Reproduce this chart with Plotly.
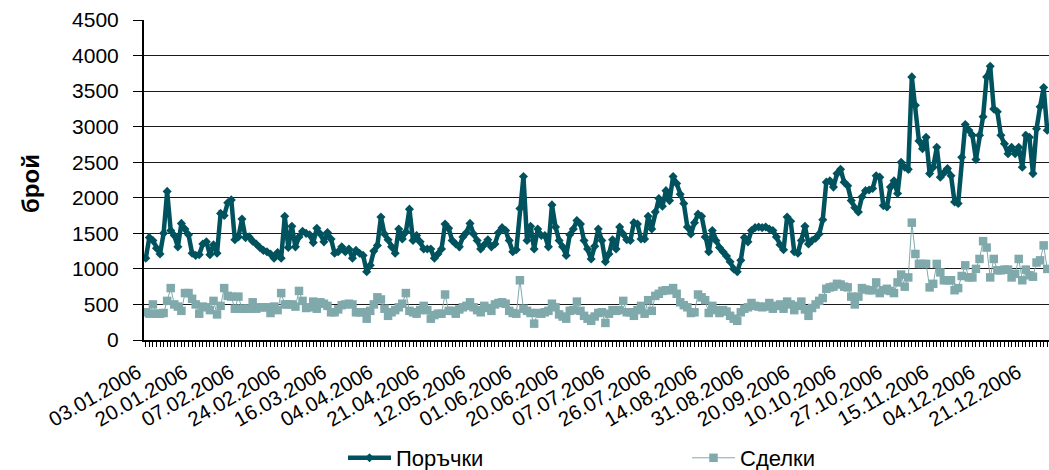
import plotly.graph_objects as go

# Tick labels shown along the category axis (every 13th trading day)
tick_labels = [
    "03.01.2006", "20.01.2006", "07.02.2006", "24.02.2006", "16.03.2006",
    "04.04.2006", "21.04.2006", "12.05.2006", "01.06.2006", "20.06.2006",
    "07.07.2006", "26.07.2006", "14.08.2006", "31.08.2006", "20.09.2006",
    "10.10.2006", "27.10.2006", "15.11.2006", "04.12.2006", "21.12.2006",
]
tick_step = 13

# Daily number of orders
orders = [
    1150, 1440, 1400, 1290, 1210, 1500, 2090, 1540, 1470, 1310,
    1640, 1560, 1480, 1220, 1190, 1200, 1350, 1380, 1200, 1340,
    1220, 1780, 1750, 1930, 1970, 1410, 1450, 1700, 1440, 1450,
    1390, 1350, 1300, 1260, 1240, 1210, 1150, 1230, 1150, 1740,
    1300, 1600, 1310, 1450, 1530, 1500, 1480, 1370, 1570, 1490,
    1380, 1510, 1420, 1220, 1240, 1310, 1240, 1280, 1150, 1260,
    1220, 1190, 960, 1050, 1250, 1330, 1730, 1490, 1410, 1310,
    1220, 1560, 1420, 1520, 1840, 1400, 1470, 1380, 1280, 1280,
    1280, 1150, 1210, 1280, 1630, 1570, 1400, 1350, 1310, 1450,
    1510, 1640, 1490, 1400, 1280, 1340, 1410, 1310, 1350, 1510,
    1580, 1540, 1400, 1240, 1270, 1850, 2300, 1400, 1600, 1280,
    1560, 1470, 1470, 1310, 1900, 1590, 1400, 1310, 1190, 1480,
    1560, 1680, 1630, 1400, 1280, 1140, 1320, 1560, 1400, 1100,
    1210, 1410, 1280, 1590, 1490, 1410, 1400, 1650, 1630, 1420,
    1420, 1740, 1560, 1800, 1990, 1880, 2100, 1960, 2300, 2200,
    2050, 1920, 1590, 1490, 1650, 1770, 1740, 1450, 1240, 1540,
    1400, 1300, 1240, 1180, 1100, 1000, 960, 1120, 1440, 1380,
    1540, 1580, 1590, 1580, 1590, 1560, 1540, 1450, 1340, 1270,
    1730, 1670, 1240, 1220, 1400, 1600, 1350, 1400, 1430, 1490,
    1690, 2220, 2240, 2150, 2340, 2400, 2220, 2170, 1960, 1860,
    1800, 2010, 2100, 2110, 2130, 2310, 2290, 1890, 1870, 2150,
    2240, 2060, 2500, 2430, 2400, 3700, 3300, 2800, 2690, 2850,
    2340, 2430, 2710, 2290, 2350, 2410, 2310, 1940, 1920, 2570,
    3030, 2950, 2880, 2540, 2880, 3140, 3700, 3850, 3250, 3210,
    2880, 2760, 2620, 2710, 2620, 2710, 2430, 2880, 2850, 2340,
    2970, 3280, 3550, 2950,
]

# Daily number of deals
deals = [
    390, 370, 500, 370, 370, 380, 550, 730, 500, 470,
    410, 660, 660, 580, 500, 370, 470, 460, 420, 550,
    360, 480, 730, 620, 610, 440, 610, 440, 440, 440,
    530, 440, 460, 460, 460, 380, 470, 420, 660, 500,
    500, 500, 470, 690, 550, 450, 460, 540, 440, 530,
    510, 480, 390, 390, 430, 490, 500, 510, 500, 390,
    390, 390, 300, 410, 500, 600, 570, 440, 340, 390,
    420, 460, 510, 660, 410, 390, 370, 420, 480, 420,
    300, 350, 370, 370, 640, 410, 410, 370, 430, 460,
    480, 530, 460, 420, 390, 480, 450, 410, 500, 520,
    530, 510, 410, 380, 370, 840, 440, 410, 380, 230,
    380, 370, 390, 410, 510, 460, 360, 330, 300, 410,
    420, 540, 410, 340, 300, 270, 330, 380, 390, 240,
    370, 420, 410, 420, 550, 390, 390, 340, 420, 480,
    370, 560, 410, 620, 650, 690, 700, 700, 730, 650,
    530, 490, 460, 380, 390, 640, 600, 560, 380, 480,
    420, 380, 420, 400, 340, 300, 270, 390, 440, 460,
    520, 480, 470, 460, 470, 520, 440, 480, 500, 440,
    540, 500, 420, 480, 540, 430, 340, 450, 500, 550,
    590, 720, 740, 750, 790, 780, 750, 740, 610, 500,
    610, 730, 710, 700, 700, 810, 660, 700, 720, 690,
    660, 810, 920, 750, 880, 1650, 1210, 1070, 1070, 1070,
    740, 790, 1070, 950, 840, 840, 840, 700, 730, 900,
    1050, 880, 880, 1000, 1140, 1390, 1300, 880, 1140, 980,
    980, 990, 990, 880, 930, 1140, 840, 990, 910, 890,
    1090, 1120, 1330, 1000,
]

ORDERS_COLOR = "#00535E"
DEALS_COLOR = "#80A9AC"
FONT = "Liberation Sans, Arial, sans-serif"

x = list(range(len(orders)))
tickvals = [i * tick_step for i in range(len(tick_labels))]

fig = go.Figure()
fig.add_trace(go.Scatter(
    x=x, y=orders, name="Поръчки", mode="lines+markers",
    line=dict(color=ORDERS_COLOR, width=4.5),
    marker=dict(symbol="diamond", size=7, color=ORDERS_COLOR),
    legend="legend",
))
fig.add_trace(go.Scatter(
    x=x, y=deals, name="Сделки", mode="lines+markers",
    line=dict(color=DEALS_COLOR, width=1),
    marker=dict(symbol="square", size=8.5, color=DEALS_COLOR),
    legend="legend2",
))

L, R, T, B = 144, 0, 20, 130
W, H = 1049, 470
plot_w = W - L - R
plot_h = H - T - B

def px_x(px):
    return (px - L) / plot_w

def px_y(py):
    return (H - B - py) / plot_h

legend_common = dict(
    orientation="h", yanchor="top", xanchor="left",
    font=dict(family=FONT, size=22, color="black"),
    bgcolor="rgba(0,0,0,0)", itemwidth=43,
)

fig.update_layout(
    width=W, height=H,
    margin=dict(l=L, r=R, t=T, b=B, autoexpand=False),
    paper_bgcolor="white", plot_bgcolor="white",
    font=dict(family=FONT, size=18, color="black"),
    showlegend=True,
    legend=dict(x=px_x(343), y=px_y(437), **legend_common),
    legend2=dict(x=px_x(687), y=px_y(437), **legend_common),
    xaxis=dict(
        range=[-0.5, len(orders) - 0.5], automargin=False,
        tickmode="array", tickvals=tickvals, ticktext=tick_labels,
        tickangle=-30, ticks="outside", ticklen=5, tickcolor="black",
        minor=dict(ticks="outside", dtick=1, tick0=0, ticklen=5, tickcolor="black", showgrid=False),
        showline=True, linecolor="black", linewidth=1.5,
        showgrid=False, zeroline=False,
        ticklabelshift=-8, ticklabelstandoff=6,
        tickfont=dict(family=FONT, size=20.5, color="black"),
    ),
    yaxis=dict(
        range=[0, 4500], dtick=500, tick0=0, automargin=False,
        ticks="outside", ticklen=9, tickcolor="black",
        showline=True, linecolor="black", linewidth=2,
        showgrid=True, gridcolor="#1a1a1a", gridwidth=1,
        zeroline=False, ticklabelstandoff=10,
        tickfont=dict(family=FONT, size=21, color="black"),
    ),
    annotations=[dict(
        text="<b>брой</b>", xref="paper", yref="paper",
        x=px_x(30), y=px_y(184), showarrow=False, textangle=-90,
        font=dict(family=FONT, size=24, color="black"),
        xanchor="center", yanchor="middle",
    )],
)

fig.write_html("out.html")
